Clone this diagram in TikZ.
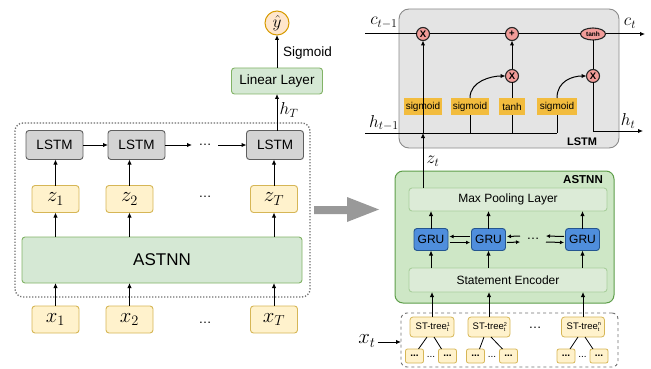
\documentclass[tikz,border=0pt]{standalone}
\usepackage{fontspec}
\setmainfont{Liberation Sans}
\usetikzlibrary{arrows.meta,calc,shapes.geometric}
\definecolor{ylfill}{HTML}{FFF2CC}
\definecolor{yldraw}{HTML}{D6B656}
\definecolor{gnfill}{HTML}{D5E8D4}
\definecolor{gndraw}{HTML}{82B366}
\definecolor{pgfill}{HTML}{CEE7C6}
\definecolor{pgdraw}{HTML}{5E9E4A}
\definecolor{infill}{HTML}{DCEBD7}
\definecolor{indraw}{HTML}{A9CF9C}
\definecolor{lsfill}{HTML}{D4D4D4}
\definecolor{lsdraw}{HTML}{5F5F5F}
\definecolor{lpfill}{HTML}{E4E4E4}
\definecolor{lpdraw}{HTML}{8A8A8A}
\definecolor{orfill}{HTML}{F2BC3E}
\definecolor{opfill}{HTML}{F19C99}
\definecolor{grfill}{HTML}{4F8EDC}
\definecolor{grdraw}{HTML}{24558F}
\definecolor{yhfill}{HTML}{FFE6CC}
\definecolor{yhdraw}{HTML}{D79B00}
\definecolor{bigarr}{HTML}{999999}
\definecolor{framegray}{HTML}{707070}
\newcommand{\tinytxt}[1]{\mbox{\fontsize{5.5}{5.5}\selectfont #1}}
\newcommand{\stlab}[1]{ST-tree\rlap{\raisebox{3.4pt}{\tinytxt{#1}}}\raisebox{-2pt}{\tinytxt{t}}\hspace{2pt}}
\begin{document}
\begin{tikzpicture}[x=1pt,y=-1pt,
  >={Latex[length=5pt,width=4.5pt]},
  every node/.style={inner sep=0pt,outer sep=0pt},
  arr/.style={->,line width=1pt},
  sarr/.style={-{Latex[length=4pt,width=4pt]},line width=1pt},
  ln/.style={line width=1pt},
  lstmbox/.style={draw=lsdraw,fill=lsfill,rounded corners=3pt,line width=0.9pt,minimum width=57pt,minimum height=29pt,font=\fontsize{13.5}{14}\selectfont},
  ybox/.style={draw=yldraw,fill=ylfill,rounded corners=3pt,line width=0.9pt,minimum width=47pt,minimum height=27pt,font=\fontsize{20}{20}\selectfont},
  gbox/.style={draw=gndraw,fill=gnfill,rounded corners=3pt,line width=0.9pt},
  ibox/.style={draw=indraw,fill=infill,rounded corners=3pt,line width=0.9pt,minimum width=198pt,font=\fontsize{12}{12}\selectfont},
  grubox/.style={draw=grdraw,fill=grfill,rounded corners=3pt,line width=0.9pt,minimum width=34pt,minimum height=22pt,font=\fontsize{12}{12}\selectfont},
  obox/.style={fill=orfill,minimum height=17pt,font=\fontsize{10}{10}\selectfont},
  opc/.style={circle,draw=black!85,fill=opfill,line width=1.1pt,minimum size=13pt,font=\fontsize{9.5}{9.5}\selectfont\bfseries},
  tbox/.style={draw=yldraw,fill=ylfill,rounded corners=3pt,line width=0.8pt,minimum height=20pt,font=\fontsize{9.5}{9.5}\selectfont},
  sbox/.style={draw=yldraw,fill=ylfill,rounded corners=2pt,line width=0.8pt,minimum width=18pt,minimum height=14pt,font=\fontsize{10}{10}\selectfont\bfseries},
  mlab/.style={font=\fontsize{16.5}{16.5}\selectfont},
]
\useasboundingbox (0,0) rectangle (651,369);

% ---------------- left part ----------------
\node[draw=framegray,dash pattern=on 1.3pt off 1.7pt,line width=1.3pt,rounded corners=8pt,minimum width=295pt,minimum height=174pt] (lframe) at (162.5,210) {};

\node[lstmbox] (l1) at (54.5,145) {LSTM};
\node[lstmbox] (l2) at (136.5,145) {LSTM};
\node[lstmbox] (l3) at (275,145) {LSTM};
\node[minimum width=26pt,font=\fontsize{13}{13}\selectfont] (ld) at (205,145) {\dots};
\draw[arr] (l1.east) -- (l2.west);
\draw[arr] (l2.east) -- (ld.west);
\draw[arr] (ld.east) -- (l3.west);

\node[gbox,minimum width=91pt,minimum height=26pt,font=\fontsize{13.5}{14}\selectfont] (lin) at (277,81) {Linear Layer};
\node[circle,draw=yhdraw,fill=yhfill,line width=1pt,minimum size=24pt,font=\fontsize{18}{18}\selectfont] (yh) at (277,23) {$\hat{y}$};
\draw[arr] (l3.north -| lin) -- (lin.south);
\draw[arr] (lin.north) -- (yh.south);
\node[mlab] (hT) at (289,110) {$h_T$};
\node[anchor=west,font=\fontsize{13.5}{14}\selectfont] (sg) at (283,53) {Sigmoid};

\node[ybox] (z1) at (55.5,199) {$z_1$};
\node[ybox] (z2) at (129.5,199) {$z_2$};
\node[ybox] (zT) at (274,199) {$z_T$};
\node[font=\fontsize{13}{13}\selectfont] (zd) at (205,197) {\dots};
\draw[arr] (z1.north) -- (z1.north |- l1.south);
\draw[arr] (z2.north) -- (z2.north |- l2.south);
\draw[arr] (zT.north) -- (zT.north |- l3.south);

\node[gbox,minimum width=280pt,minimum height=46pt,font=\fontsize{17}{17}\selectfont] (astl) at (162,260) {ASTNN};
\draw[arr] (astl.north -| z1) -- (z1.south);
\draw[arr] (astl.north -| z2) -- (z2.south);
\draw[arr] (astl.north -| zT) -- (zT.south);

\node[ybox] (x1) at (55.5,319.5) {$x_1$};
\node[ybox] (x2) at (129.5,319.5) {$x_2$};
\node[ybox] (xT) at (274,319.5) {$x_T$};
\node[font=\fontsize{13}{13}\selectfont] (xd) at (205,323) {\dots};
\draw[arr] (x1.north) -- (x1.north |- astl.south);
\draw[arr] (x2.north) -- (x2.north |- astl.south);
\draw[arr] (xT.north) -- (xT.north |- astl.south);

% big arrow
\fill[bigarr] (314,206) -- (347,206) -- (347,197) -- (379,209.5) -- (347,222) -- (347,214) -- (314,214) -- cycle;

% ---------------- LSTM cell ----------------
\node[draw=lpdraw,fill=lpfill,rounded corners=10pt,line width=0.9pt,minimum width=220pt,minimum height=139pt] (lp) at (509,78.5) {};
\node[font=\fontsize{11}{11}\selectfont\bfseries] (lpl) at (582,142) {LSTM};

\node[opc] (m1) at (423,34) {X};
\node[opc] (pl) at (512,34) {+};
\node[ellipse,draw=black!85,fill=opfill,line width=1.1pt,minimum width=25pt,minimum height=12pt,font=\fontsize{6.5}{6.5}\selectfont\bfseries] (th) at (593,34) {tanh};
\node[opc] (m2) at (512,76) {X};
\node[opc] (m3) at (593,76) {X};

\node[obox,minimum width=38pt] (s1) at (423,106.5) {sigmoid};
\node[obox,minimum width=38pt] (s2) at (470,106.5) {sigmoid};
\node[obox,minimum width=26pt] (tb) at (512,106.5) {tanh};
\node[obox,minimum width=40pt] (s4) at (557,106.5) {sigmoid};

\coordinate (cin) at (365,34);
\coordinate (cout) at (645,34);
\draw[ln] (cin) -- (m1.west);
\draw[ln] (m1.east) -- (pl.west);
\draw[ln] (pl.east) -- (th.west);
\draw[arr] (th.east) -- (cout);
\node[mlab] (cl) at (384,23) {$c_{t-1}$};
\node[mlab] (cr) at (630,23) {$c_t$};

\coordinate (hin) at (365,133);
\coordinate (hout) at (643,131);
\draw[ln] (hin) -- (hin -| s4);
\draw[ln] (s2.south) -- (s2.south |- hin);
\draw[ln] (tb.south) -- (tb.south |- hin);
\draw[ln] (s4.south) -- (s4.south |- hin);
\node[mlab] (hl) at (384,123) {$h_{t-1}$};
\node[mlab] (hr) at (628,121) {$h_t$};

\draw[arr] (s2.north) .. controls +(0,-17) and +(-14,0) .. (m2.west);
\draw[arr] (s4.north) .. controls +(0,-17) and +(-14,0) .. (m3.west);
\draw[ln] (tb.north) -- (m2.south);
\draw[arr] (m2.north) -- (pl.south);
\draw[ln] (th.south) -- (m3.north);
\draw[arr] (m3.south) |- (hout);

% ---------------- ASTNN panel ----------------
\node[draw=pgdraw,fill=pgfill,rounded corners=8pt,line width=1pt,minimum width=219pt,minimum height=132pt] (ap) at (504.5,237) {};
\node[font=\fontsize{11.5}{11.5}\selectfont\bfseries] (apl) at (583,180) {ASTNN};
\node[ibox,minimum height=23pt] (mp) at (508,199.5) {Max Pooling Layer};
\node[grubox] (g1) at (431,239.5) {GRU};
\node[grubox] (g2) at (488.5,239.5) {GRU};
\node[grubox] (g3) at (582.5,239.5) {GRU};
\node[minimum width=24pt,font=\fontsize{13}{13}\selectfont] (gd) at (533,239) {\dots};
\node[ibox,minimum height=24pt] (se) at (508,280) {Statement Encoder};

\draw[arr] (m1 |- mp.north) -- (m1 |- hin);
\draw[arr] (m1 |- hin) -- (m1.south);
\node[mlab] (zt) at (433,161) {$z_t$};

\draw[arr] (g1.north) -- (g1.north |- mp.south);
\draw[arr] (g2.north) -- (g2.north |- mp.south);
\draw[arr] (g3.north) -- (g3.north |- mp.south);
\draw[arr] (se.north -| g1) -- (g1.south);
\draw[arr] (se.north -| g2) -- (g2.south);
\draw[arr] (se.north -| g3) -- (g3.south);

\draw[sarr] ($(g2.west)+(-1.5,-3)$) -- ($(g1.east)+(1.5,-3)$);
\draw[sarr] ($(g1.east)+(1.5,3)$) -- ($(g2.west)+(-1.5,3)$);
\draw[sarr] ($(gd.west)+(-1,-3)$) -- ($(g2.east)+(1.5,-3)$);
\draw[sarr] ($(g2.east)+(1.5,3)$) -- ($(gd.west)+(-1,3)$);
\draw[sarr] ($(g3.west)+(-1.5,-3)$) -- ($(gd.east)+(1,-3)$);
\draw[sarr] ($(gd.east)+(1,3)$) -- ($(g3.west)+(-1.5,3)$);

% ---------------- ST-trees ----------------
\node[draw=framegray,dashed,line width=0.9pt,rounded corners=6pt,minimum width=217pt,minimum height=54pt] (stf) at (509.5,340) {};
\node[tbox,minimum width=44pt] (t1) at (432,327) {\stlab{1}};
\node[tbox,minimum width=42pt] (t2) at (489,327) {\stlab{2}};
\node[tbox,minimum width=43pt] (tn) at (583,327) {\stlab{n}};
\node[font=\fontsize{13}{13}\selectfont] (td) at (535,328) {\dots};
\draw[arr] (t1.north) -- (t1.north |- se.south);
\draw[arr] (t2.north) -- (t2.north |- se.south);
\draw[arr] (tn.north) -- (tn.north |- se.south);

\node[sbox] (a1) at (414.5,356) {...};
\node[sbox] (a2) at (447.5,356) {...};
\node[sbox] (b1) at (475.5,356) {...};
\node[sbox] (b2) at (508.5,356) {...};
\node[sbox] (c1) at (566,356) {...};
\node[sbox] (c2) at (599,356) {...};
\node[font=\fontsize{10}{10}\selectfont] (ad) at (431,357) {...};
\node[font=\fontsize{10}{10}\selectfont] (bd) at (492,357) {...};
\node[font=\fontsize{10}{10}\selectfont] (cd) at (582.5,357) {...};
\draw[line width=0.8pt] ($(t1.south)+(-5,0)$) -- ($(a1.north)+(4,0)$);
\draw[line width=0.8pt] ($(t1.south)+(2,0)$) -- ($(a2.north)+(-6,0)$);
\draw[line width=0.8pt] ($(t2.south)+(-5,0)$) -- ($(b1.north)+(4,0)$);
\draw[line width=0.8pt] ($(t2.south)+(2,0)$) -- ($(b2.north)+(-6,0)$);
\draw[line width=0.8pt] ($(tn.south)+(-5,0)$) -- ($(c1.north)+(4,0)$);
\draw[line width=0.8pt] ($(tn.south)+(2,0)$) -- ($(c2.north)+(-6,0)$);

\node[font=\fontsize{22}{22}\selectfont] (xt) at (367,341) {$x_t$};
\coordinate (xa) at ($(xt.east)+(2,1)$);
\draw[arr] (xa) -- (xa -| stf.west);
\end{tikzpicture}
\end{document}
